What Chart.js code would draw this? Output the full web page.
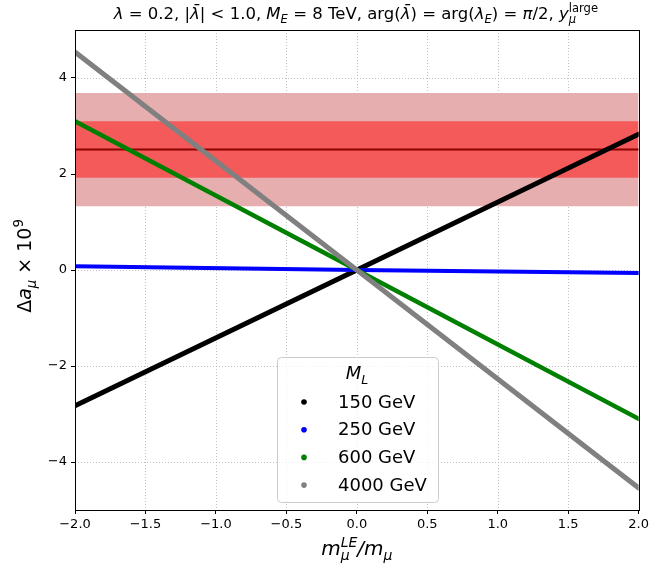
<!DOCTYPE html>
<html><head><meta charset="utf-8">
<script src="https://cdn.jsdelivr.net/npm/chart.js@4"></script>
<style>html,body{margin:0;padding:0;background:#fff}#wrap{width:652px;height:574px}</style>
</head><body><div id="wrap"><canvas id="c" width="652" height="574"></canvas></div>
<script>
const xVals = [-2, 0, 2];
const black150 = [-2.83, 0, 2.83];
const blue250 = [0.08, 0, -0.06];
const green600 = [3.10, 0, -3.10];
const gray4000 = [4.54, 0, -4.54];
const bandCentral = 2.51;
const band1 = [1.92, 3.10];
const band2 = [1.33, 3.69];
const xTicks = [-2, -1.5, -1, -0.5, 0, 0.5, 1, 1.5, 2];
const yTicks = [-4, -2, 0, 2, 4];
const seriesLabels = ['150 GeV', '250 GeV', '600 GeV', '4000 GeV'];
const seriesColors = ['#000000', '#0000ff', '#008000', '#808080'];

const FF = '"DejaVu Sans", sans-serif';
const pts = ys => xVals.map((x, i) => ({x, y: ys[i]}));
const flat = v => [{x: -2, y: v}, {x: 2, y: v}];

function fmt(v, d) { const s = Math.abs(v).toFixed(d); return v < 0 ? '\u2212' + s : s; }

// rich text: parts [text, {i, sub, sup, stack:[sub,sup]}]
function richWidth(ctx, parts, size) {
  let w = 0;
  for (const [t, o] of parts) {
    if (o && o.stack) {
      ctx.font = `${o.i ? 'italic ' : ''}${size * 0.7}px ${FF}`;
      const w1 = ctx.measureText(o.stack[0]).width;
      ctx.font = `${o.si ? 'italic ' : ''}${size * 0.7}px ${FF}`;
      const w2 = ctx.measureText(o.stack[1]).width;
      w += Math.max(w1, w2);
    } else {
      const s = (o && (o.sub || o.sup)) ? size * 0.7 : size;
      ctx.font = `${o && o.i ? 'italic ' : ''}${s}px ${FF}`;
      w += ctx.measureText(t).width;
    }
  }
  return w;
}
function drawRich(ctx, parts, x, y, size, align) {
  const w = richWidth(ctx, parts, size);
  let cx = align === 'center' ? x - w / 2 : (align === 'right' ? x - w : x);
  ctx.textBaseline = 'alphabetic';
  ctx.textAlign = 'left';
  for (const [t, o] of parts) {
    if (o && o.stack) {
      ctx.font = `${o.i ? 'italic ' : ''}${size * 0.7}px ${FF}`;
      ctx.fillText(o.stack[0], cx, y + size * 0.25);
      const w1 = ctx.measureText(o.stack[0]).width;
      ctx.font = `${o.si ? 'italic ' : ''}${size * 0.7}px ${FF}`;
      ctx.fillText(o.stack[1], cx, y - size * 0.42);
      const w2 = ctx.measureText(o.stack[1]).width;
      cx += Math.max(w1, w2);
    } else {
      const s = (o && (o.sub || o.sup)) ? size * 0.7 : size;
      ctx.font = `${o && o.i ? 'italic ' : ''}${s}px ${FF}`;
      const dy = o && o.sub ? size * 0.25 : (o && o.sup ? -size * 0.42 : 0);
      ctx.fillText(t, cx, y + dy);
      cx += ctx.measureText(t).width;
    }
  }
}

const textPlugin = {
  id: 'texts',
  beforeDatasetsDraw(chart) {
    const {ctx, chartArea: a, scales} = chart;
    ctx.save();
    ctx.strokeStyle = '#b0b0b0';
    ctx.lineWidth = 0.8;
    ctx.setLineDash([1, 2]);
    for (const v of xTicks) {
      const px = Math.round(scales.x.getPixelForValue(v)) + 0.5;
      ctx.beginPath(); ctx.moveTo(px, a.top); ctx.lineTo(px, a.bottom); ctx.stroke();
    }
    for (const v of yTicks) {
      const py = Math.round(scales.y.getPixelForValue(v)) + 0.5;
      ctx.beginPath(); ctx.moveTo(a.left, py); ctx.lineTo(a.right, py); ctx.stroke();
    }
    ctx.restore();
  },
  afterDatasetsDraw(chart) {
    const {ctx, chartArea: a} = chart;
    ctx.save();
    // legend
    const lx = a.left + 202, ly = a.top + 327, lw = 161, lh = 145;
    ctx.beginPath();
    ctx.roundRect(lx + 0.5, ly + 0.5, lw, lh, 4);
    ctx.fillStyle = 'rgba(255,255,255,0.8)';
    ctx.fill();
    ctx.strokeStyle = '#cccccc';
    ctx.lineWidth = 1;
    ctx.stroke();
    ctx.fillStyle = '#000';
    drawRich(ctx, [['M', {i: true}], ['L', {i: true, sub: true}]], lx + 80, ly + 22, 18, 'center');
    for (let i = 0; i < seriesLabels.length; i++) {
      const yy = ly + 45 + i * 27.7;
      ctx.beginPath();
      ctx.arc(lx + 27, yy, 2.8, 0, Math.PI * 2);
      ctx.fillStyle = seriesColors[i];
      ctx.fill();
      ctx.fillStyle = '#000';
      ctx.font = `18px ${FF}`;
      ctx.textAlign = 'left';
      ctx.textBaseline = 'middle';
      ctx.fillText(seriesLabels[i], lx + 61, yy + 1);
    }
    ctx.restore();
  },
  afterDraw(chart) {
    const {ctx, chartArea: a} = chart;
    ctx.save();
    ctx.strokeStyle = '#000';
    ctx.lineWidth = 1;
    ctx.strokeRect(Math.round(a.left) + 0.5, Math.round(a.top) + 0.5, Math.round(a.right - a.left), Math.round(a.bottom - a.top));
    ctx.fillStyle = '#000';
    const lb = 'λ\u0304';
    const title = [
      ['λ', {i: true}], [' = 0.2, |'], [lb, {i: true}], ['| < 1.0, '],
      ['M', {i: true}], ['E', {i: true, sub: true}], [' = 8 TeV, arg('], [lb, {i: true}],
      [') = arg('], ['λ', {i: true}], ['E', {i: true, sub: true}], [') = '], ['π', {i: true}],
      ['/2, '], ['y', {i: true}], ['', {i: true, stack: ['μ', 'large']}]
    ];
    drawRich(ctx, title, (a.left + a.right) / 2 - 1, 19, 16.5, 'center');
    // x label
    drawRich(ctx, [['m', {i: true}], ['', {i: true, si: true, stack: ['μ', 'LE']}], ['/m', {i: true}], ['μ', {i: true, sub: true}]],
      (a.left + a.right) / 2, 555, 20, 'center');
    // y label
    ctx.translate(31, (a.top + a.bottom) / 2 - 4);
    ctx.rotate(-Math.PI / 2);
    drawRich(ctx, [['Δ'], ['a', {i: true}], ['μ', {i: true, sub: true}], [' × 10'], ['9', {sup: true}]], 0, 0, 19, 'center');
    ctx.restore();
  }
};

const lineDs = (label, ys, color, w, ord) => ({
  label, data: pts(ys), borderColor: color, backgroundColor: color, borderWidth: w,
  pointRadius: 0, showLine: true, fill: false, order: ord, borderCapStyle: 'round', clip: 0
});

new Chart(document.getElementById('c'), {
  type: 'scatter',
  data: {
    datasets: [
      lineDs(seriesLabels[3], gray4000, seriesColors[3], 5, 0),
      lineDs(seriesLabels[2], green600, seriesColors[2], 4.5, 1),
      lineDs(seriesLabels[1], blue250, seriesColors[1], 4, 2),
      lineDs(seriesLabels[0], black150, seriesColors[0], 5, 3),
      {label: 'c', data: flat(bandCentral), borderColor: '#8b0000', borderWidth: 1.8, pointRadius: 0, showLine: true, fill: false, order: 5},
      {label: 'b2lo', data: flat(band2[0]), borderWidth: 0, pointRadius: 0, showLine: true, fill: false, order: 8},
      {label: 'b2hi', data: flat(band2[1]), borderWidth: 0, pointRadius: 0, showLine: true, fill: '-1', backgroundColor: '#e6aeae', order: 8},
      {label: 'b1lo', data: flat(band1[0]), borderWidth: 0, pointRadius: 0, showLine: true, fill: false, order: 7},
      {label: 'b1hi', data: flat(band1[1]), borderWidth: 0, pointRadius: 0, showLine: true, fill: '-1', backgroundColor: '#f45a5a', order: 7}
    ]
  },
  options: {
    responsive: false, animation: false,
    layout: {padding: {left: 0, right: 12, top: 30, bottom: 0}},
    plugins: {legend: {display: false}, tooltip: {enabled: false}},
    scales: {
      x: {
        type: 'linear', min: -2, max: 2,
        afterBuildTicks: s => { s.ticks = xTicks.map(v => ({value: v})); },
        afterFit: s => { s.height = 64; },
        grid: {drawOnChartArea: false, drawTicks: true, tickLength: 4, tickColor: '#000'},
        border: {display: false},
        ticks: {color: '#000', font: {family: FF, size: 13}, padding: 3, maxRotation: 0, autoSkip: false,
          callback: v => fmt(v, 1)}
      },
      y: {
        type: 'linear', min: -5, max: 5,
        afterBuildTicks: s => { s.ticks = yTicks.map(v => ({value: v})); },
        afterFit: s => { s.width = 75; },
        grid: {drawOnChartArea: false, drawTicks: true, tickLength: 4, tickColor: '#000'},
        border: {display: false},
        ticks: {color: '#000', font: {family: FF, size: 13}, padding: 4, autoSkip: false,
          callback: v => fmt(v, 0)}
      }
    }
  },
  plugins: [textPlugin]
});
</script></body></html>
